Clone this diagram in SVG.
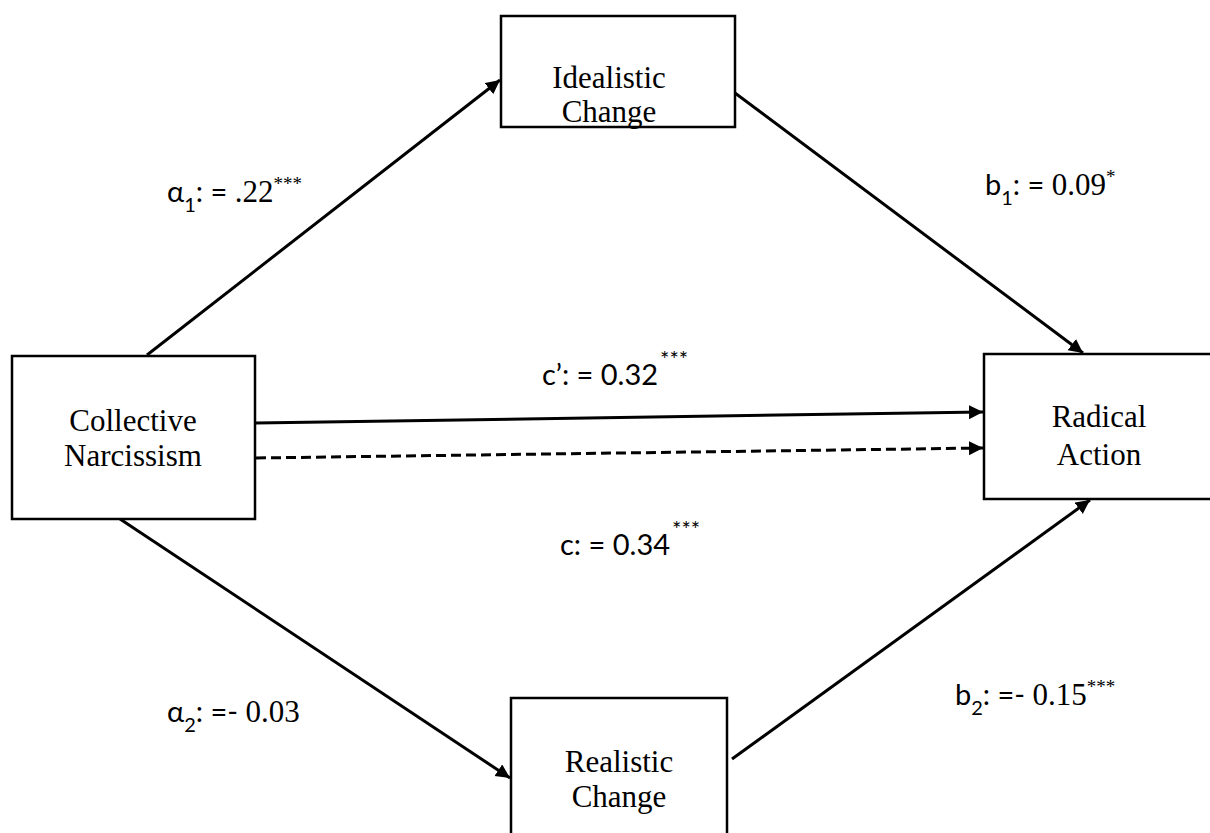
<svg xmlns="http://www.w3.org/2000/svg" width="1210" height="833" viewBox="0 0 1210 833">
  <style>
    .box { fill: #fff; stroke: #000; stroke-width: 2.5; }
    .node { font-family: "Liberation Serif", "Times New Roman", serif; font-size: 31px; fill: #000; text-anchor: middle; }
    .lbl { font-family: Lato, "Liberation Sans", sans-serif; font-size: 29px; fill: #000; }
    .ser { font-family: "Liberation Serif", "Times New Roman", serif; font-size: 31px; }
    .sub { font-size: 20px; }
    .sup { font-size: 19px; }
    .supc { font-size: 22px; }
    .edge { stroke: #000; stroke-width: 3; fill: none; }
    .dash { stroke-dasharray: 10 5; }
  </style>
  <defs>
    <marker id="arr" markerUnits="userSpaceOnUse" markerWidth="16" markerHeight="16" refX="14" refY="7" orient="auto">
      <path d="M0,0 L14,7 L0,14 z" fill="#000"/>
    </marker>
  </defs>
  <rect width="1210" height="833" fill="#fff"/>

  <g id="connectors">
    <line class="edge" x1="147" y1="355" x2="500" y2="80" marker-end="url(#arr)"/>
    <line class="edge" x1="735" y1="93" x2="1083" y2="353" marker-end="url(#arr)"/>
    <line class="edge" x1="256" y1="423" x2="983" y2="412" marker-end="url(#arr)"/>
    <line class="edge dash" x1="256" y1="458" x2="983" y2="448" marker-end="url(#arr)"/>
    <line class="edge" x1="120" y1="519" x2="510" y2="778" marker-end="url(#arr)"/>
    <line class="edge" x1="732" y1="759" x2="1090" y2="500" marker-end="url(#arr)"/>
  </g>

  <g id="idealistic">
    <rect class="box" x="501" y="16" width="234" height="111"/>
    <text class="node" x="609" y="88">Idealistic</text>
    <text class="node" x="609" y="122">Change</text>
  </g>
  <g id="collective">
    <rect class="box" x="12" y="356" width="243" height="163"/>
    <text class="node" x="133" y="431">Collective</text>
    <text class="node" x="133" y="466">Narcissism</text>
  </g>
  <g id="radical">
    <rect class="box" x="984" y="354" width="232" height="145"/>
    <text class="node" x="1099" y="427">Radical</text>
    <text class="node" x="1099" y="465">Action</text>
  </g>
  <g id="realistic">
    <rect class="box" x="511" y="698" width="216" height="160"/>
    <text class="node" x="619" y="772">Realistic</text>
    <text class="node" x="619" y="807">Change</text>
  </g>

  <g id="labels">
    <text class="lbl" x="167" y="202">α<tspan class="sub" dy="10">1</tspan><tspan dy="-10">: = </tspan><tspan class="ser">.22</tspan><tspan class="ser sup" dy="-12">***</tspan></text>
    <text class="lbl" x="985" y="195">b<tspan class="sub" dy="10">1</tspan><tspan dy="-10">: = </tspan><tspan class="ser">0.09</tspan><tspan class="ser sup" dy="-12">*</tspan></text>
    <text class="lbl" x="542" y="385">c’: = 0.32<tspan class="supc" dx="2" dy="-18">***</tspan></text>
    <text class="lbl" x="560" y="555">c: = 0.34<tspan class="supc" dx="2" dy="-18">***</tspan></text>
    <text class="lbl" x="167" y="722">α<tspan class="sub" dy="10">2</tspan><tspan dy="-10">: =- </tspan><tspan class="ser">0.03</tspan></text>
    <text class="lbl" x="955" y="705">b<tspan class="sub" dy="10">2</tspan><tspan dy="-10">: =- </tspan><tspan class="ser">0.15</tspan><tspan class="ser sup" dy="-12">***</tspan></text>
  </g>
</svg>
